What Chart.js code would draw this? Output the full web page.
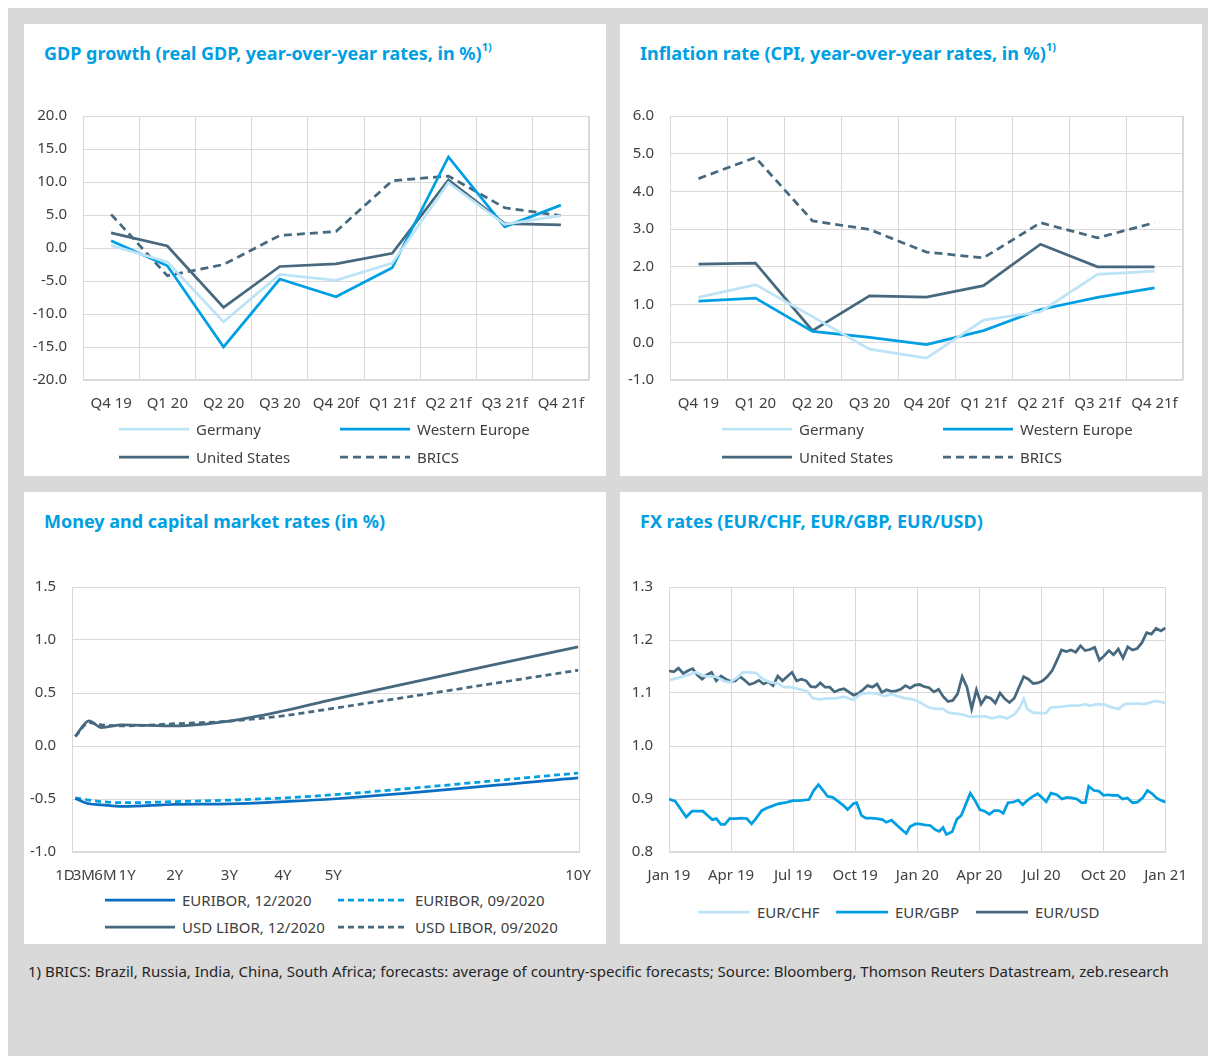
<!DOCTYPE html>
<html>
<head>
<meta charset="utf-8">
<script src="https://cdn.jsdelivr.net/npm/chart.js@4.4.1/dist/chart.umd.min.js"></script>
<style>
  body { margin: 0; background: #fff; font-family: "Noto Sans", sans-serif; color: #404040; }
  #page { position: absolute; left: 8px; top: 8px; width: 1200px; height: 1048px; background: #d9d9d9; }
  .panel { position: absolute; width: 582px; height: 452px; background: #fff; }
  .title { position: absolute; color: #009fe3; font-weight: bold; font-size: 18px; line-height: 22px; white-space: nowrap; }
  .title sup { font-size: 11px; position: relative; top: -2px; }
  canvas { position: absolute; }
  .leg { position: absolute; height: 20px; display: flex; align-items: center; font-size: 15px; color: #404040; white-space: nowrap; }
  .leg svg { margin-right: 7px; }
  #note { position: absolute; left: 28px; top: 961px; font-size: 15px; color: #262626; white-space: nowrap; }
</style>
</head>
<body>
<div id="page"></div>
<div class="panel" style="left:24px;top:24px"></div>
<div class="panel" style="left:620px;top:24px"></div>
<div class="panel" style="left:24px;top:492px"></div>
<div class="panel" style="left:620px;top:492px"></div>

<div class="title" style="left:44px;top:38px">GDP growth (real GDP, year-over-year rates, in %)<sup>1)</sup></div>
<div class="title" style="left:640px;top:38px">Inflation rate (CPI, year-over-year rates, in %)<sup>1)</sup></div>
<div class="title" style="left:44px;top:510px">Money and capital market rates (in %)</div>
<div class="title" style="left:640px;top:510px">FX rates (EUR/CHF, EUR/GBP, EUR/USD)</div>

<canvas id="gdp"></canvas>
<canvas id="cpi"></canvas>
<canvas id="rates"></canvas>
<canvas id="fx"></canvas>

<div id="note">1) BRICS: Brazil, Russia, India, China, South Africa; forecasts: average of country-specific forecasts; Source: Bloomberg, Thomson Reuters Datastream, zeb.research</div>

<script>
// ---- data ----
const quarters = ["Q4 19", "Q1 20", "Q2 20", "Q3 20", "Q4 20f", "Q1 21f", "Q2 21f", "Q3 21f", "Q4 21f"];

const gdpGermany = [0.4, -2.1, -11.2, -4.0, -4.9, -2.3, 9.9, 3.6, 4.9];
const gdpWesternEurope = [1.1, -2.7, -15.0, -4.7, -7.4, -3.0, 13.8, 3.2, 6.5];
const gdpUnitedStates = [2.3, 0.3, -9.0, -2.8, -2.4, -0.8, 10.3, 3.7, 3.5];
const gdpBrics = [5.1, -4.2, -2.5, 1.9, 2.5, 10.2, 10.9, 6.1, 4.9];

const cpiGermany = [1.19, 1.53, 0.68, -0.18, -0.42, 0.59, 0.81, 1.8, 1.89];
const cpiWesternEurope = [1.09, 1.17, 0.29, 0.13, -0.06, 0.31, 0.87, 1.19, 1.44];
const cpiUnitedStates = [2.07, 2.1, 0.31, 1.23, 1.2, 1.5, 2.6, 2.0, 2.0];
const cpiBrics = [4.34, 4.9, 3.22, 2.99, 2.39, 2.24, 3.17, 2.77, 3.17];

// maturity axis: tick labels and where they sit on the (uneven) maturity axis
const tenorLabels = ["1D", "3M", "6M", "1Y", "2Y", "3Y", "4Y", "5Y", "10Y"];
const tenorPos = [-0.47, 0.39, 1.38, 2.37, 4.55, 7.05, 9.5, 11.8, 23];
const curvePos = [0, 0.63, 1.19, 2.15, 4.55, 7.05, 9.5, 11.8, 23];
const euribor1220 = [-0.495, -0.545, -0.555, -0.57, -0.55, -0.545, -0.525, -0.5, -0.3];
const euribor0920 = [-0.49, -0.51, -0.525, -0.535, -0.525, -0.51, -0.49, -0.46, -0.255];
const libor1220 = [0.09, 0.237, 0.174, 0.2, 0.19, 0.235, 0.33, 0.44, 0.935];
const libor0920 = [0.09, 0.22, 0.2, 0.19, 0.21, 0.235, 0.285, 0.355, 0.715];

// FX: weeks since Jan 2019, quarter tick labels every 13 weeks
const fxTickLabels = ["Jan 19", "Apr 19", "Jul 19", "Oct 19", "Jan 20", "Apr 20", "Jul 20", "Oct 20", "Jan 21"];
const usdValues = [
  1.142, 1.140, 1.147, 1.137, 1.142, 1.146, 1.134, 1.126, 1.134, 1.139,
  1.123, 1.132, 1.126, 1.122, 1.123, 1.131, 1.124, 1.116, 1.119, 1.124,
  1.117, 1.121, 1.114, 1.132, 1.123, 1.131, 1.139, 1.123, 1.126, 1.123,
  1.112, 1.111, 1.119, 1.111, 1.111, 1.102, 1.106, 1.108, 1.102, 1.096,
  1.099, 1.106, 1.114, 1.111, 1.117, 1.101, 1.106, 1.103, 1.104, 1.107,
  1.114, 1.109, 1.115, 1.116, 1.112, 1.110, 1.102, 1.107, 1.093, 1.084,
  1.086, 1.098, 1.131, 1.111, 1.070, 1.106, 1.079, 1.093, 1.090, 1.081,
  1.100, 1.089, 1.082, 1.090, 1.111, 1.131, 1.126, 1.118, 1.119, 1.123,
  1.131, 1.142, 1.161, 1.181, 1.178, 1.181, 1.177, 1.189, 1.180, 1.182,
  1.186, 1.162, 1.170, 1.180, 1.172, 1.183, 1.166, 1.187, 1.181, 1.184,
  1.195, 1.214, 1.211, 1.222, 1.217, 1.223
];
const gbpWeeks = [
  0, 1.3, 2.5, 3.6, 4.8, 5.9, 7.1, 8.2, 9.1, 9.9, 10.9, 11.7, 12.7, 14, 15.1, 16.3, 17.3, 18.2, 19.4, 20.5,
  21.7, 22.8, 24.3, 25.9, 27.4, 29.3, 30.3, 31.3, 32.3, 33.2, 34.3, 35.5, 36.5, 37.4, 38.6, 39.3, 40.3, 41.2, 42.4, 43.5,
  44.7, 45.5, 46.6, 47.8, 48.9, 49.7, 50.5, 51.6, 52.4, 53.5, 54.7, 55.8, 56.6, 57.4, 58.1, 59.3, 60.3, 61.2, 62.2, 63.1,
  64.1, 65.1, 66.1, 67.1, 68.1, 69.1, 70, 71, 72.1, 73.1, 74.1, 75, 76.2, 77.2, 78.1, 79, 80, 81.2, 82.3, 83.3,
  84.3, 85.4, 86.4, 87.2, 87.9, 89, 90, 91, 91.9, 92.9, 94, 95, 96, 97.1, 98.1, 99.2, 100.2, 101.2, 102.1, 103.1, 104
];
const gbpValues = [
  0.900, 0.896, 0.880, 0.866, 0.877, 0.877, 0.877, 0.868, 0.861, 0.863, 0.852, 0.852, 0.863, 0.863, 0.864, 0.863, 0.853, 0.863, 0.878, 0.883,
  0.887, 0.891, 0.893, 0.897, 0.897, 0.899, 0.916, 0.927, 0.916, 0.905, 0.903, 0.895, 0.888, 0.880, 0.891, 0.893, 0.869, 0.864, 0.864, 0.863,
  0.861, 0.856, 0.860, 0.850, 0.841, 0.835, 0.848, 0.853, 0.853, 0.851, 0.850, 0.842, 0.839, 0.846, 0.833, 0.838, 0.862, 0.869, 0.891, 0.911,
  0.897, 0.880, 0.877, 0.871, 0.878, 0.878, 0.873, 0.893, 0.894, 0.898, 0.889, 0.897, 0.905, 0.910, 0.903, 0.895, 0.911, 0.908, 0.900, 0.903,
  0.902, 0.900, 0.893, 0.893, 0.924, 0.916, 0.915, 0.907, 0.908, 0.907, 0.907, 0.900, 0.902, 0.893, 0.894, 0.902, 0.916, 0.910, 0.902, 0.897, 0.894
];
const chfWeeks = [
  0, 2.1, 4, 5.5, 7.5, 9.8, 11.7, 12.8, 14.4, 15.5, 16.7, 18.2, 19.7, 21.3, 22.8, 24, 25.5, 27.4, 29, 30.1,
  31.6, 33.2, 35.1, 36.6, 38.6, 40.1, 42, 43.5, 45.1, 46.6, 48.2, 49.7, 51.2, 52.8, 54.3, 55.8, 57.4, 58.5, 60.1, 61.6,
  63.1, 64.7, 66.2, 67.7, 69.3, 70.8, 72.4, 73.5, 74.3, 75, 76.2, 77.7, 78.9, 80, 82, 83.9, 85.8, 87.3, 88.1, 89.6,
  91.2, 92.7, 94.2, 95.4, 96.9, 98.5, 99.6, 100.8, 101.9, 103.1, 104
];
const chfValues = [
  1.124, 1.129, 1.134, 1.139, 1.132, 1.131, 1.122, 1.120, 1.130, 1.139, 1.139, 1.138, 1.126, 1.120, 1.118, 1.111, 1.111, 1.107, 1.103, 1.090,
  1.088, 1.090, 1.090, 1.093, 1.087, 1.098, 1.100, 1.099, 1.094, 1.098, 1.093, 1.090, 1.088, 1.081, 1.073, 1.070, 1.070, 1.063, 1.061, 1.059,
  1.055, 1.056, 1.056, 1.052, 1.056, 1.052, 1.060, 1.073, 1.089, 1.070, 1.063, 1.062, 1.062, 1.073, 1.074, 1.076, 1.076, 1.079, 1.076, 1.079,
  1.078, 1.073, 1.070, 1.079, 1.080, 1.080, 1.079, 1.082, 1.085, 1.083, 1.081
];

// ---- styling ----
const lightBlue = "#bde3f7";
const brightBlue = "#009fe3";
const darkBlue = "#0a6fc2";
const slate = "#47697f";
const gridColor = "#d9d9d9";

Chart.defaults.font.family = '"Noto Sans", sans-serif';
Chart.defaults.font.size = 15;
Chart.defaults.color = "#404040";

// light grey frame round the plot area, like the Excel originals
const plotBox = {
  id: "plotBox",
  beforeDatasetsDraw(chart) {
    const { ctx, chartArea: a } = chart;
    ctx.save();
    ctx.strokeStyle = gridColor;
    ctx.lineWidth = 1;
    ctx.strokeRect(Math.round(a.left) + 0.5, Math.round(a.top) + 0.5, Math.round(a.width) - 1, Math.round(a.height) - 1);
    ctx.restore();
  },
};

function line(label, data, color, dash) {
  return {
    label, data,
    borderColor: color, backgroundColor: color,
    borderWidth: 2.75, borderDash: dash || [],
    pointRadius: 0, tension: 0, fill: false,
  };
}

const toXY = (xs, ys) => ys.map((y, i) => ({ x: xs[i], y }));

// the y axis reserves half a label + its padding (~25px) above the plot,
// so the canvas starts that far above the wanted plot top
const TOP_GAP = 25;

function makeChart(id, f, datasets, xScale, yScale, data) {
  const cv = document.getElementById(id);
  const top = f.plotTop - TOP_GAP;
  const height = f.plotBottom + f.axisH - top;
  cv.width = f.width; cv.height = height;
  cv.style.left = f.left + "px"; cv.style.top = top + "px";
  cv.style.width = f.width + "px"; cv.style.height = height + "px";
  xScale.afterFit = (s) => { s.height = f.axisH; };
  yScale.afterFit = (s) => { s.width = f.plotLeft - f.left; };
  return new Chart(cv, {
    type: "line",
    data: Object.assign({ datasets }, data || {}),
    options: {
      responsive: false,
      animation: false,
      layout: { padding: { top: 0, right: f.left + f.width - f.plotRight, left: 0, bottom: 0 } },
      plugins: { legend: { display: false }, tooltip: { enabled: false } },
      scales: { x: xScale, y: yScale },
    },
    plugins: [plotBox],
  });
}

function valueAxis(min, max, step, decimals) {
  return {
    min, max,
    grid: { color: gridColor, drawTicks: false },
    border: { display: false },
    ticks: { stepSize: step, padding: 16, callback: (v) => v.toFixed(decimals) },
  };
}

function quarterAxis() {
  return {
    type: "category", offset: true,
    grid: { color: gridColor, offset: true, drawTicks: false },
    border: { display: false },
    ticks: { padding: 15, maxRotation: 0, autoSkip: false },
  };
}

// html legend laid out in fixed columns, taking colours / dashes from the chart
function legend(chart, spots, len) {
  chart.data.datasets.forEach((ds, i) => {
    const el = document.createElement("div");
    el.className = "leg";
    el.style.left = spots[i][0] + "px";
    el.style.top = spots[i][1] - 11 + "px";
    const dash = ds.borderDash.length ? ` stroke-dasharray="${ds.borderDash.join(" ")}"` : "";
    el.innerHTML = `<svg width="${len}" height="6"><line x1="0" y1="3" x2="${len}" y2="3" stroke="${ds.borderColor}" stroke-width="2.75"${dash}/></svg><span>${ds.label}</span>`;
    document.body.appendChild(el);
  });
}

// ---- GDP ----
const gdpChart = makeChart("gdp",
  { left: 24, width: 582, plotLeft: 83, plotRight: 589, plotTop: 116, plotBottom: 380, axisH: 40 },
  [
    line("Germany", gdpGermany, lightBlue),
    line("Western Europe", gdpWesternEurope, brightBlue),
    line("United States", gdpUnitedStates, slate),
    line("BRICS", gdpBrics, slate, [8, 5]),
  ],
  quarterAxis(), valueAxis(-20, 20, 5, 1), { labels: quarters });
legend(gdpChart, [[119, 430], [340, 430], [119, 458], [340, 458]], 70);

// ---- inflation ----
const cpiChart = makeChart("cpi",
  { left: 620, width: 582, plotLeft: 670, plotRight: 1183, plotTop: 116, plotBottom: 380, axisH: 40 },
  [
    line("Germany", cpiGermany, lightBlue),
    line("Western Europe", cpiWesternEurope, brightBlue),
    line("United States", cpiUnitedStates, slate),
    line("BRICS", cpiBrics, slate, [8, 5]),
  ],
  quarterAxis(), valueAxis(-1, 6, 1, 1), { labels: quarters });
legend(cpiChart, [[722, 430], [943, 430], [722, 458], [943, 458]], 70);

// ---- money and capital market rates ----
const curve = (ds) => Object.assign(ds, { cubicInterpolationMode: "monotone" });
const ratesChart = makeChart("rates",
  { left: 24, width: 582, plotLeft: 72, plotRight: 588, plotTop: 587, plotBottom: 852, axisH: 36 },
  [
    curve(line("EURIBOR, 12/2020", toXY(curvePos, euribor1220), darkBlue)),
    curve(line("EURIBOR, 09/2020", toXY(curvePos, euribor0920), brightBlue, [6, 4])),
    curve(line("USD LIBOR, 12/2020", toXY(curvePos, libor1220), slate)),
    curve(line("USD LIBOR, 09/2020", toXY(curvePos, libor0920), slate, [6, 4])),
  ],
  {
    type: "linear", min: -0.15, max: 23.1,
    grid: { display: false, drawTicks: false },
    border: { display: false },
    afterBuildTicks: (s) => { s.ticks = tenorPos.map((v) => ({ value: v })); },
    ticks: { padding: 15, maxRotation: 0, autoSkip: false, callback: (v, i) => tenorLabels[i] },
  },
  valueAxis(-1, 1.5, 0.5, 1));
legend(ratesChart, [[105, 901], [338, 901], [105, 928], [338, 928]], 70);

// ---- FX ----
const fxChart = makeChart("fx",
  { left: 620, width: 582, plotLeft: 669, plotRight: 1173, plotTop: 587, plotBottom: 852, axisH: 36 },
  [
    line("EUR/CHF", toXY(chfWeeks, chfValues), lightBlue),
    line("EUR/GBP", toXY(gbpWeeks, gbpValues), brightBlue),
    line("EUR/USD", usdValues.map((y, i) => ({ x: i * 104 / (usdValues.length - 1), y })), slate),
  ],
  {
    type: "linear", min: 0, max: 104,
    grid: { color: gridColor, drawTicks: false },
    border: { display: false },
    ticks: { stepSize: 13, padding: 15, maxRotation: 0, autoSkip: false, callback: (v) => fxTickLabels[v / 13] },
  },
  valueAxis(0.8, 1.3, 0.1, 1));
legend(fxChart, [[698, 913], [836, 913], [976, 913]], 52);
</script>
</body>
</html>
